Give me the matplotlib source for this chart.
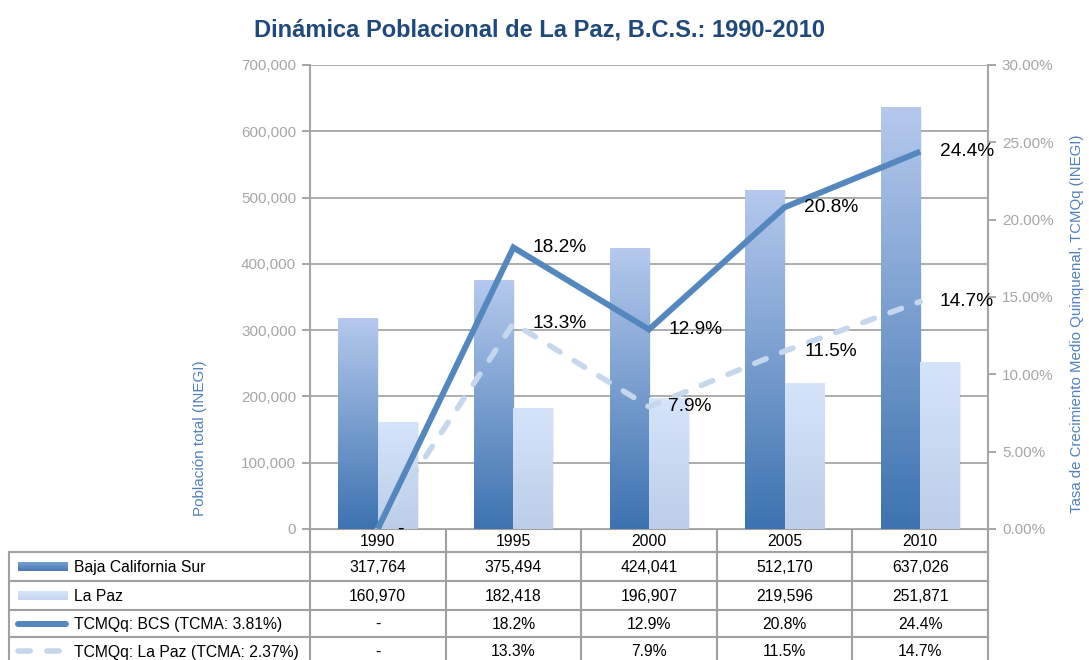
import numpy as np
import matplotlib
matplotlib.use("Agg")
import matplotlib.pyplot as plt
from matplotlib.ticker import FuncFormatter, MultipleLocator
from matplotlib.patches import Rectangle
from matplotlib.lines import Line2D

plt.rcParams['font.family'] = ['Liberation Sans', 'DejaVu Sans']

# ---------------- data ----------------
years = ["1990", "1995", "2000", "2005", "2010"]
bcs_pop = [317764, 375494, 424041, 512170, 637026]
lapaz_pop = [160970, 182418, 196907, 219596, 251871]
bcs_rate = [0.0, 18.2, 12.9, 20.8, 24.4]
lapaz_rate = [0.0, 13.3, 7.9, 11.5, 14.7]
rate_labels_bcs = ["-", "18.2%", "12.9%", "20.8%", "24.4%"]
rate_labels_lapaz = ["-", "13.3%", "7.9%", "11.5%", "14.7%"]
series_names = ["Baja California Sur", "La Paz",
                "TCMQq: BCS (TCMA: 3.81%)", "TCMQq: La Paz (TCMA: 2.37%)"]
title = "Dinámica Poblacional de La Paz, B.C.S.: 1990-2010"
ylabel_left = "Población total (INEGI)"
ylabel_right = "Tasa de Crecimiento Medio Quinquenal, TCMQq (INEGI)"

# ---------------- style ----------------
W, H = 1089, 660
grid_c = "#a6a6a6"
tick_c = "#a6a6a6"
label_c = "#4f81bd"
title_c = "#1f497d"
bcs_top = np.array([181, 201, 237]) / 255
bcs_bot = np.array([60, 115, 176]) / 255
lp_top = np.array([213, 228, 251]) / 255
lp_bot = np.array([188, 205, 232]) / 255
bcs_line_c = "#5587bf"
lp_line_c = "#c5d7ec"

fig = plt.figure(figsize=(W / 100, H / 100), dpi=100)
ax_l, ax_r, ax_t, ax_b = 310, 988, 65, 529
ax = fig.add_axes([ax_l / W, 1 - ax_b / H, (ax_r - ax_l) / W, (ax_b - ax_t) / H])

x = np.arange(len(years))
bw = 0.29

def grad_fill(axis, rect, ctop, cbot):
    x0, y0 = rect.get_x(), rect.get_y()
    w, h = rect.get_width(), rect.get_height()
    t = np.linspace(0, 1, 256).reshape(-1, 1, 1)
    img = cbot + (ctop - cbot) * t
    img = np.repeat(img, 2, axis=1)
    im = axis.imshow(img, extent=[x0, x0 + w, y0, y0 + h], origin="lower",
                     aspect="auto", zorder=2, interpolation="bilinear")
    im.set_clip_path(rect)
    # soft shadow
    sh = Rectangle((x0 + w, y0), w * 0.04, h * 0.995, transform=axis.transData,
                   facecolor="#000000", alpha=0.06, edgecolor="none", zorder=1.9)
    axis.add_patch(sh)

bars1 = ax.bar(x - bw / 2, bcs_pop, bw, color="none", edgecolor="none", zorder=2)
bars2 = ax.bar(x + bw / 2, lapaz_pop, bw, color="none", edgecolor="none", zorder=2)
for r in bars1:
    grad_fill(ax, r, bcs_top, bcs_bot)
for r in bars2:
    grad_fill(ax, r, lp_top, lp_bot)

ax.set_xlim(-0.5, len(years) - 0.5)
ax.set_ylim(0, 700000)
ax.yaxis.set_major_locator(MultipleLocator(100000))
ax.yaxis.set_major_formatter(FuncFormatter(lambda v, p: f"{int(v):,}"))
ax.set_xticks([])
ax.yaxis.grid(True, color=grid_c, lw=1.3)
ax.set_axisbelow(True)
for s in ["top", "bottom"]:
    ax.spines[s].set_visible(False)
ax.spines["left"].set_color(grid_c)
ax.spines["left"].set_linewidth(1.5)
ax.spines["right"].set_visible(False)
ax.tick_params(axis="y", colors=tick_c, labelcolor=tick_c, labelsize=11,
               length=6, width=1.4, direction="out", pad=4)

ax2 = ax.twinx()
ax2.set_ylim(0, 30)
ax2.yaxis.set_major_locator(MultipleLocator(5))
ax2.yaxis.set_major_formatter(FuncFormatter(lambda v, p: f"{v:.2f}%"))
for s in ["top", "bottom", "left"]:
    ax2.spines[s].set_visible(False)
ax2.spines["right"].set_color(grid_c)
ax2.spines["right"].set_linewidth(1.5)
ax2.tick_params(axis="y", colors=tick_c, labelcolor=tick_c, labelsize=11,
                length=6, width=1.4, direction="out", pad=4)

ax2.plot(x, lapaz_rate, color=lp_line_c, lw=4.0, dashes=(2.2, 3),
         dash_capstyle="round", solid_capstyle="round", zorder=3)
ax2.plot(x, bcs_rate, color=bcs_line_c, lw=4.3, solid_capstyle="butt",
         solid_joinstyle="miter", zorder=4)

for xi, v, lab in zip(x, lapaz_rate, rate_labels_lapaz):
    ax2.annotate(lab, (xi, v), xytext=(14, 0), textcoords="offset points",
                 va="center", ha="left", fontsize=13.8, color="black", zorder=5)
for xi, v, lab in zip(x, bcs_rate, rate_labels_bcs):
    ax2.annotate(lab, (xi, v), xytext=(14, 0), textcoords="offset points",
                 va="center", ha="left", fontsize=13.8, color="black", zorder=5)

# ---------------- titles / labels ----------------
fig.text(540 / W, 1 - 36 / H, title, ha="center", va="baseline",
         fontsize=17, fontweight="bold", color=title_c)
fig.text(200 / W, 1 - 438 / H, ylabel_left, rotation=90, ha="center",
         va="center", fontsize=11, color=label_c)
fig.text(1077 / W, 1 - 324 / H, ylabel_right, rotation=90, ha="center",
         va="center", fontsize=10.8, color=label_c)

# ---------------- data table ----------------
ov = fig.add_axes([0, 0, 1, 1], zorder=-1)
ov.set_xlim(0, W)
ov.set_ylim(H, 0)
ov.axis("off")

n = len(years)
edges = [ax_l + (ax_r - ax_l) * k / n for k in range(n + 1)]
centers = [(edges[k] + edges[k + 1]) / 2 for k in range(n)]
tbl_left = 9
row_y = [529, 552, 581, 610, 637, 665]
lc = "#a0a0a0"
lw_t = 1.5
ov.plot([ax_l, ax_r], [row_y[0], row_y[0]], color=lc, lw=lw_t)
for yy in row_y[1:]:
    ov.plot([tbl_left, ax_r], [yy, yy], color=lc, lw=lw_t)
for e in edges:
    ov.plot([e, e], [row_y[0], row_y[-1]], color=lc, lw=lw_t)
ov.plot([tbl_left, tbl_left], [row_y[1], row_y[-1]], color=lc, lw=lw_t)

rc = [(row_y[i] + row_y[i + 1]) / 2 for i in range(len(row_y) - 1)]
fs_t = 11.3
for c, yr in zip(centers, years):
    ov.text(c, rc[0] + 1, yr, ha="center", va="center", fontsize=fs_t, color="black")
row_vals = [
    [f"{v:,}" for v in bcs_pop],
    [f"{v:,}" for v in lapaz_pop],
    rate_labels_bcs,
    rate_labels_lapaz,
]
for i, vals in enumerate(row_vals):
    for c, s in zip(centers, vals):
        ov.text(c, rc[i + 1] + 1, s, ha="center", va="center", fontsize=fs_t,
                color="black")
    ov.text(74, rc[i + 1] + 1, series_names[i], ha="left", va="center",
            fontsize=fs_t, color="black")

def sw_grad(y, ctop, cbot):
    t = np.linspace(0, 1, 32).reshape(-1, 1, 1)
    img = np.repeat(cbot + (ctop - cbot) * t, 2, axis=1)
    ov.imshow(img, extent=[18, 68, y + 4.5, y - 4.5], origin="lower",
              aspect="auto", zorder=2)
sw_grad(rc[1], np.array([120, 160, 210]) / 255, np.array([70, 120, 180]) / 255)
sw_grad(rc[2], np.array([215, 228, 248]) / 255, np.array([198, 214, 240]) / 255)
ov.add_line(Line2D([18, 66], [rc[3], rc[3]], color=bcs_line_c, lw=4.3,
                   solid_capstyle="round"))
ov.add_line(Line2D([18, 66], [rc[4], rc[4]], color=lp_line_c, lw=4.0,
                   dashes=(2.2, 3), dash_capstyle="round"))
ov.set_xlim(0, W)
ov.set_ylim(H, 0)

fig.savefig("out.png", dpi=100)
